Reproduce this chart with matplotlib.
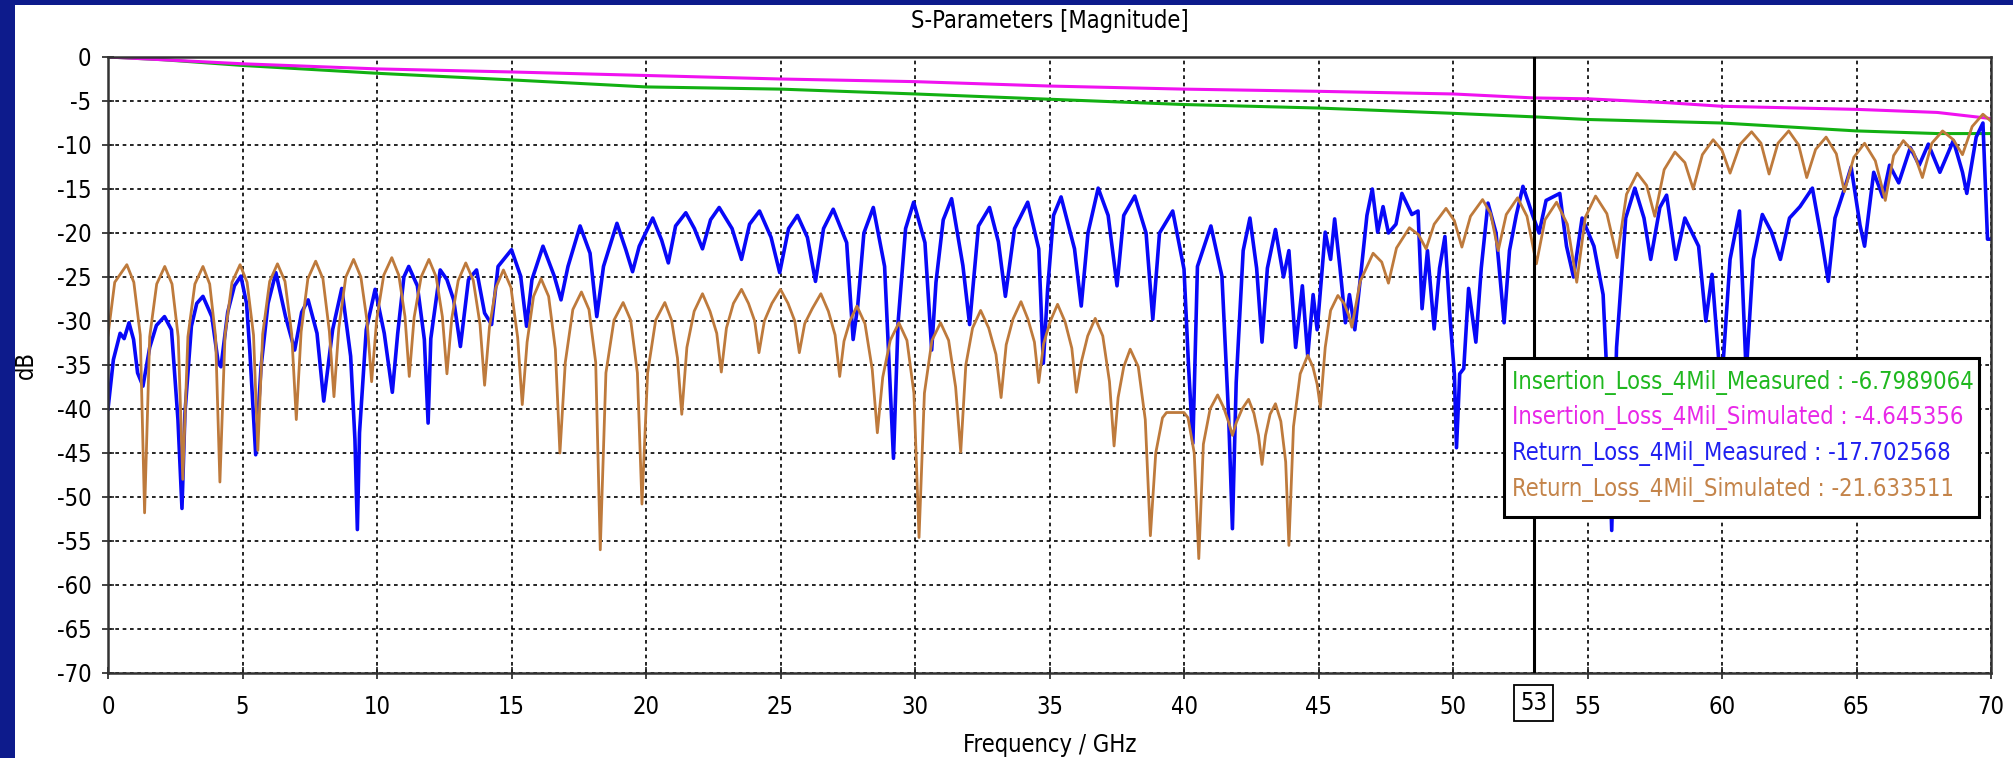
import matplotlib
matplotlib.use("Agg")
import matplotlib.pyplot as plt
from matplotlib import font_manager
from matplotlib.patches import Rectangle

# ---- values (GHz, dB) ----
il_meas_f = [0, 2, 5, 10, 15, 20, 25, 30, 35, 40, 45, 50, 53, 55, 60, 65, 68, 70]
il_meas_db = [0, -0.3, -0.96, -1.85, -2.6, -3.4, -3.65, -4.2, -4.8, -5.4,
              -5.8, -6.4, -6.8, -7.1, -7.5, -8.4, -8.7, -8.7]

il_sim_f = [0, 5, 10, 15, 20, 25, 30, 35, 40, 45, 50, 53, 55, 58, 60, 65, 68, 70]
il_sim_db = [0, -0.77, -1.35, -1.7, -2.1, -2.5, -2.8, -3.3, -3.65, -3.9,
             -4.2, -4.65, -4.75, -5.2, -5.6, -5.95, -6.3, -7.0]

rl_meas_f = [
    0.00, 0.20, 0.45, 0.60, 0.78, 0.95, 1.10, 1.30, 1.55, 1.80,
    2.10, 2.36, 2.60, 2.75, 2.86, 3.10, 3.30, 3.53, 3.86, 4.10,
    4.20, 4.45, 4.70, 4.94, 5.15, 5.27, 5.49, 5.69, 5.95, 6.24,
    6.60, 6.94, 7.20, 7.44, 7.77, 8.02, 8.35, 8.69, 9.02, 9.18,
    9.27, 9.35, 9.60, 9.93, 10.27, 10.57, 10.77, 11.00, 11.18, 11.50,
    11.76, 11.90, 12.00, 12.35, 12.60, 12.85, 13.10, 13.40, 13.70, 14.00,
    14.26, 14.50, 15.00, 15.34, 15.56, 15.76, 16.17, 16.59, 16.84, 17.10,
    17.55, 17.92, 18.17, 18.42, 18.92, 19.25, 19.50, 19.75, 20.25, 20.58,
    20.83, 21.10, 21.48, 21.80, 22.10, 22.40, 22.72, 23.20, 23.55, 23.85,
    24.22, 24.65, 24.97, 25.30, 25.63, 26.00, 26.30, 26.60, 26.96, 27.46,
    27.70, 27.87, 28.10, 28.45, 28.87, 29.20, 29.37, 29.65, 29.95, 30.37,
    30.62, 30.78, 31.05, 31.36, 31.78, 32.03, 32.36, 32.77, 33.10, 33.36,
    33.70, 34.19, 34.60, 34.77, 34.93, 35.15, 35.43, 35.93, 36.18, 36.43,
    36.81, 37.18, 37.51, 37.76, 38.17, 38.59, 38.84, 39.09, 39.58, 40.00,
    40.17, 40.33, 40.50, 41.00, 41.41, 41.66, 41.80, 41.94, 42.20, 42.45,
    42.70, 42.90, 43.10, 43.40, 43.70, 43.90, 44.15, 44.40, 44.60, 44.80,
    44.95, 45.25, 45.45, 45.60, 45.80, 46.00, 46.15, 46.35, 46.60, 46.80,
    47.00, 47.20, 47.40, 47.60, 47.88, 48.10, 48.47, 48.70, 48.85, 49.05,
    49.30, 49.50, 49.70, 49.90, 50.05, 50.13, 50.25, 50.40, 50.58, 50.85,
    51.05, 51.30, 51.60, 51.90, 52.10, 52.35, 52.60, 52.80, 52.95, 53.20,
    53.46, 53.97, 54.22, 54.48, 54.80, 55.24, 55.58, 55.75, 55.90, 56.08,
    56.42, 56.76, 57.10, 57.35, 57.69, 57.94, 58.28, 58.62, 59.13, 59.40,
    59.63, 59.97, 60.30, 60.65, 60.90, 61.16, 61.50, 61.84, 62.17, 62.51,
    62.90, 63.36, 63.70, 63.95, 64.20, 64.54, 64.80, 65.13, 65.30, 65.64,
    65.98, 66.23, 66.57, 67.00, 67.33, 67.67, 68.10, 68.60, 68.94, 69.10,
    69.45, 69.70, 69.87, 70.00,
]
rl_meas_db = [
    -40.0, -34.4, -31.4, -32.0, -30.2, -32.1, -35.9, -37.4, -33.0, -30.5,
    -29.5, -31.0, -41.2, -51.3, -40.5, -30.6, -28.0, -27.2, -29.5, -34.8,
    -35.2, -29.0, -26.0, -24.9, -28.0, -33.3, -45.2, -35.2, -28.0, -24.5,
    -29.5, -33.3, -29.0, -27.6, -31.4, -39.1, -31.0, -26.3, -34.0, -43.5,
    -53.7, -42.7, -31.0, -26.4, -31.4, -38.1, -31.4, -25.0, -23.8, -26.0,
    -32.1, -41.6, -32.0, -24.2, -25.3, -27.6, -32.9, -25.3, -24.2, -29.1,
    -30.4, -23.8, -21.9, -24.9, -30.6, -25.3, -21.5, -24.9, -27.6, -23.8,
    -19.2, -22.3, -29.5, -23.8, -18.9, -21.9, -24.4, -21.5, -18.3, -20.8,
    -23.4, -19.2, -17.7, -19.5, -21.8, -18.5, -17.1, -19.5, -23.0, -19.0,
    -17.5, -20.5, -24.5, -19.5, -18.0, -20.5, -25.5, -19.5, -17.3, -21.1,
    -32.1, -28.3, -20.0, -17.1, -23.8, -45.6, -30.2, -19.5, -16.5, -21.1,
    -33.3, -25.6, -18.5, -16.1, -23.7, -30.4, -19.2, -17.1, -21.0, -27.2,
    -19.5, -16.5, -21.8, -34.8, -26.4, -18.0, -15.9, -21.8, -28.3, -20.0,
    -14.9, -18.0, -26.0, -18.0, -15.8, -20.0, -29.8, -20.0, -17.5, -24.1,
    -35.2, -43.9, -23.8, -19.2, -24.9, -40.9, -53.6, -37.0, -22.0, -18.3,
    -24.0, -32.4, -24.0, -19.6, -25.0, -22.0, -33.0, -26.0, -34.0, -27.0,
    -31.0, -19.9, -23.0, -18.4, -24.0, -30.2, -27.0, -31.0, -23.9, -18.0,
    -15.0, -19.9, -17.0, -20.0, -19.0, -15.5, -17.9, -17.5, -28.6, -22.0,
    -30.9, -24.0, -20.4, -30.0, -36.0, -44.4, -36.0, -35.4, -26.3, -32.4,
    -24.0, -16.6, -20.0, -30.2, -22.0, -18.0, -14.7, -16.5, -17.9, -20.0,
    -16.3, -15.5, -21.5, -25.0, -18.3, -21.5, -27.0, -38.0, -53.8, -33.0,
    -18.3, -14.9, -18.3, -23.0, -17.1, -15.7, -23.0, -18.3, -21.5, -30.0,
    -24.7, -38.0, -23.0, -17.5, -36.0, -23.0, -17.9, -19.9, -23.0, -18.3,
    -17.0, -14.9, -20.7, -25.5, -18.3, -15.1, -12.5, -19.1, -21.5, -13.1,
    -15.9, -12.3, -14.3, -10.3, -12.3, -9.9, -13.1, -9.5, -13.1, -15.5,
    -9.1, -7.5, -20.7, -20.7,
]

rl_sim_f = [
    0.00, 0.25, 0.70, 0.96, 1.20, 1.36, 1.55, 1.81, 2.11, 2.38,
    2.61, 2.78, 2.97, 3.23, 3.53, 3.78, 4.00, 4.16, 4.35, 4.61,
    4.91, 5.17, 5.41, 5.57, 5.75, 6.01, 6.30, 6.58, 6.83, 7.00,
    7.18, 7.43, 7.72, 7.99, 8.23, 8.40, 8.58, 8.84, 9.13, 9.40,
    9.63, 9.80, 9.99, 10.25, 10.55, 10.81, 11.04, 11.20, 11.38, 11.64,
    11.93, 12.20, 12.43, 12.60, 12.78, 13.02, 13.30, 13.58, 13.83, 14.00,
    14.18, 14.42, 14.70, 14.98, 15.23, 15.40, 15.58, 15.82, 16.10, 16.38,
    16.63, 16.80, 17.00, 17.28, 17.60, 17.88, 18.13, 18.30, 18.51, 18.81,
    19.15, 19.43, 19.68, 19.85, 20.06, 20.36, 20.70, 20.95, 21.17, 21.33,
    21.52, 21.79, 22.10, 22.38, 22.63, 22.80, 22.99, 23.25, 23.55, 23.81,
    24.04, 24.20, 24.40, 24.68, 25.00, 25.28, 25.53, 25.70, 25.90, 26.18,
    26.50, 26.78, 27.03, 27.20, 27.36, 27.58, 27.84, 28.14, 28.41, 28.60,
    28.80, 29.08, 29.40, 29.70, 29.96, 30.15, 30.35, 30.63, 30.95, 31.25,
    31.51, 31.70, 31.89, 32.14, 32.44, 32.74, 33.01, 33.20, 33.39, 33.64,
    33.94, 34.20, 34.44, 34.60, 34.78, 35.02, 35.30, 35.58, 35.83, 36.00,
    36.18, 36.42, 36.70, 36.98, 37.23, 37.40, 37.55, 37.76, 38.00, 38.30,
    38.56, 38.75, 38.95, 39.20, 39.35, 40.00, 40.15, 40.38, 40.55, 40.72,
    40.97, 41.25, 41.47, 41.66, 41.80, 41.95, 42.16, 42.40, 42.60, 42.77,
    42.90, 43.03, 43.20, 43.40, 43.60, 43.78, 43.90, 44.07, 44.32, 44.60,
    44.79, 44.95, 45.07, 45.25, 45.45, 45.72, 45.95, 46.12, 46.24, 46.55,
    47.03, 47.35, 47.60, 47.90, 48.38, 48.72, 49.00, 49.30, 49.74, 50.05,
    50.33, 50.65, 51.10, 51.40, 51.68, 51.98, 52.40, 52.75, 53.10, 53.42,
    53.85, 54.25, 54.60, 54.92, 55.30, 55.72, 56.10, 56.45, 56.85, 57.20,
    57.50, 57.85, 58.25, 58.62, 58.93, 59.27, 59.67, 60.00, 60.30, 60.68,
    61.10, 61.45, 61.75, 62.08, 62.48, 62.85, 63.15, 63.48, 63.87, 64.25,
    64.55, 64.90, 65.30, 65.70, 66.07, 66.38, 66.74, 67.12, 67.45, 67.80,
    68.20, 68.60, 68.94, 69.30, 69.70, 70.00,
]
rl_sim_db = [
    -31.6, -25.6, -23.6, -25.6, -31.6, -51.8, -31.8, -25.8, -23.8, -25.8,
    -31.8, -48.0, -31.8, -25.8, -23.8, -25.8, -31.8, -48.3, -31.6, -25.6,
    -23.6, -25.6, -31.6, -44.7, -31.5, -25.5, -23.5, -25.5, -31.5, -41.2,
    -31.2, -25.2, -23.2, -25.2, -31.2, -38.6, -30.8, -25.0, -23.0, -25.0,
    -30.0, -36.9, -29.8, -24.8, -22.8, -24.8, -29.5, -36.3, -29.6, -25.0,
    -23.0, -25.0, -29.5, -36.0, -29.7, -25.4, -23.4, -25.4, -30.4, -37.3,
    -30.7, -26.2, -24.2, -26.2, -31.9, -39.5, -32.4, -27.2, -25.2, -27.2,
    -33.2, -45.0, -34.7, -28.7, -26.7, -28.7, -34.7, -56.0, -35.9, -29.9,
    -27.9, -29.9, -35.9, -50.8, -35.9, -29.9, -27.9, -29.9, -34.2, -40.6,
    -33.0, -28.9, -26.9, -28.9, -31.4, -35.8, -30.8, -28.0, -26.4, -28.0,
    -30.0, -33.6, -30.0, -28.0, -26.4, -28.0, -30.0, -33.6, -30.3, -28.6,
    -26.9, -28.9, -31.6, -36.3, -32.3, -30.0, -28.3, -30.3, -35.5, -42.7,
    -36.4, -32.2, -30.2, -32.2, -38.2, -54.6, -38.2, -32.2, -30.2, -32.2,
    -37.5, -44.9, -35.0, -30.8, -28.8, -30.8, -33.8, -38.7, -32.7, -29.8,
    -27.8, -29.8, -32.4, -37.0, -32.6, -30.1, -28.1, -30.1, -33.1, -38.1,
    -34.7, -31.7, -29.7, -31.7, -36.9, -44.2, -38.7, -35.2, -33.2, -35.2,
    -41.2, -54.4, -45.0, -41.0, -40.4, -40.4, -41.0, -45.0, -57.0, -44.0,
    -40.0, -38.4, -39.8, -41.5, -43.0, -41.5, -40.0, -38.9, -40.5, -43.0,
    -46.3, -43.0, -40.6, -39.4, -41.4, -46.0, -55.5, -42.0, -36.0, -33.9,
    -35.2, -37.2, -39.8, -33.0, -28.8, -27.1, -28.0, -29.3, -30.7, -25.5,
    -22.3, -23.3, -25.7, -21.7, -19.4, -20.2, -21.8, -19.0, -17.2, -18.6,
    -21.6, -18.1, -16.2, -17.8, -22.0, -17.9, -16.0, -18.1, -23.5, -18.5,
    -16.5, -19.0, -25.6, -18.2, -15.8, -17.8, -22.8, -15.6, -13.2, -14.6,
    -18.1, -12.8, -10.8, -12.0, -15.0, -11.1, -9.4, -10.6, -13.2, -9.9,
    -8.5, -9.8, -13.3, -9.8, -8.4, -10.0, -13.7, -10.5, -9.1, -11.0,
    -15.3, -11.4, -9.8, -11.8, -16.3, -11.2, -9.5, -10.8, -13.7, -9.8,
    -8.4, -9.4, -11.1, -7.9, -6.5, -7.3,
]

series_names = ["Insertion_Loss_4Mil_Measured", "Insertion_Loss_4Mil_Simulated",
                "Return_Loss_4Mil_Measured", "Return_Loss_4Mil_Simulated"]
readout_values = ["-6.7989064", "-4.645356", "-17.702568", "-21.633511"]
marker_freq = 53

line_colors = ["#12B012", "#F012F0", "#0808F8", "#BE7A3C"]
text_colors = ["#20B820", "#E828E8", "#2020F0", "#C4844A"]

# pick a condensed face if the box has one (the original text is narrow)
fonts = font_manager.fontManager.ttflist
cond = [f for f in fonts if f.name == "DejaVu Sans" and "condensed" in f.stretch]
if cond:
    plt.rcParams["font.family"] = "DejaVu Sans"
    plt.rcParams["font.stretch"] = cond[0].stretch
elif any(f.name == "Liberation Sans Narrow" for f in fonts):
    plt.rcParams["font.family"] = "Liberation Sans Narrow"
else:
    plt.rcParams["font.family"] = "DejaVu Sans"
plt.rcParams["axes.unicode_minus"] = False
fs = 17

fig = plt.figure(figsize=(20.13, 7.58), dpi=100)
fig.patch.set_facecolor("white")

# dark blue slide frame on the left and top
fig.patches.append(Rectangle((0, 0), 15 / 2013, 1, transform=fig.transFigure,
                             facecolor="#0D1B8C", edgecolor="none", zorder=0))
fig.patches.append(Rectangle((0, 1 - 5 / 758), 1, 5 / 758, transform=fig.transFigure,
                             facecolor="#0D1B8C", edgecolor="none", zorder=0))

ax = fig.add_axes([108 / 2013, 1 - 673 / 758, 1883 / 2013, 616 / 758])

ax.plot(il_meas_f, il_meas_db, color=line_colors[0], lw=2.2)
ax.plot(il_sim_f, il_sim_db, color=line_colors[1], lw=2.2)
ax.plot(rl_meas_f, rl_meas_db, color=line_colors[2], lw=2.6)
ax.plot(rl_sim_f, rl_sim_db, color=line_colors[3], lw=2.0)

ax.axvline(marker_freq, color="black", lw=2.2, zorder=4)

ax.set_xlim(0, 70)
ax.set_ylim(-70, 0)
ax.set_xticks(range(0, 71, 5))
ax.set_yticks(range(-70, 1, 5))
ax.tick_params(direction="inout", length=8, width=1.2, labelsize=fs, color="#222222")
ax.tick_params(axis="x", pad=12)
ax.tick_params(axis="y", pad=8)
ax.grid(True, color="black", linestyle=(0, (2.2, 2.2)), lw=1.2)
ax.set_axisbelow(True)
for s in ax.spines.values():
    s.set_color("#333333")
    s.set_linewidth(1.8)

ax.set_title("S-Parameters [Magnitude]", fontsize=fs, pad=21)
ax.set_xlabel("Frequency / GHz", fontsize=fs)
ax.xaxis.set_label_coords(0.5, -0.098)
ax.set_ylabel("dB", fontsize=fs)
ax.yaxis.set_label_coords(-0.037, 0.5)

# boxed marker position on the x axis
ax.text(marker_freq, -0.0487, str(marker_freq), transform=ax.get_xaxis_transform(),
        ha="center", va="center", fontsize=fs,
        bbox=dict(boxstyle="square,pad=0.26", fc="white", ec="black", lw=1.3))

# marker readout box
ax.add_patch(Rectangle((0.7414, 0.2532), 0.2523, 0.2581, transform=ax.transAxes,
                       facecolor="white", edgecolor="black", lw=2.2, zorder=6))
rows = [0.4724, 0.4140, 0.3571, 0.2971]
for name, val, c, y in zip(series_names, readout_values, text_colors, rows):
    ax.text(0.7456, y, f"{name} : {val}", transform=ax.transAxes, color=c,
            fontsize=fs, va="center", ha="left", zorder=7)

fig.savefig("out.png", dpi=100)
